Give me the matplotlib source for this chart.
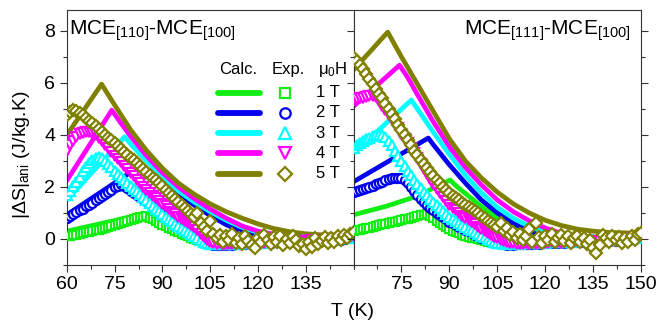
import numpy as np
import matplotlib
matplotlib.use("Agg")
import matplotlib.pyplot as plt
from matplotlib.ticker import MultipleLocator

plt.rcParams['font.family'] = ['Liberation Sans', 'DejaVu Sans']
plt.rcParams['mathtext.fontset'] = 'custom'
plt.rcParams['mathtext.rm'] = 'Liberation Sans'
plt.rcParams['mathtext.it'] = 'Liberation Sans:italic'

# temperature grid of the measured points (K)
T = np.arange(60, 151)

fields = ["1 T", "2 T", "3 T", "4 T", "5 T"]
colors = ["#11ee11", "#0000ee", "#00ffff", "#ff00ff", "#808000"]
markers = ["s", "o", "^", "v", "D"]
msizes = [5.5, 6.5, 7, 7, 6]

# ---- experimental, MCE[110]-MCE[100] ----
exp110_1 = [0.10, 0.12, 0.15, 0.17, 0.20, 0.22, 0.25, 0.27, 0.30, 0.33,
            0.35, 0.38, 0.42, 0.45, 0.50, 0.55, 0.58, 0.62, 0.65, 0.68,
            0.72, 0.76, 0.80, 0.84, 0.86, 0.88, 0.82, 0.75, 0.68, 0.62,
            0.55, 0.49, 0.43, 0.37, 0.31, 0.26, 0.20, 0.15, 0.10, 0.05,
            0.01, -0.04, -0.08, -0.12, -0.15, -0.17, -0.18, -0.19, -0.18, -0.17,
            -0.18, -0.16, -0.15, -0.17, -0.14, -0.13, -0.15, -0.12, -0.10, -0.12,
            -0.10, -0.11, -0.09, -0.08, -0.10, -0.07, -0.09, -0.06, -0.08, -0.05,
            -0.07, -0.05, -0.06, -0.04, -0.07, -0.05, -0.03, -0.06, -0.04, -0.02,
            -0.04, -0.01, -0.03, 0.00, -0.02, 0.02, 0.00, 0.04, 0.06, 0.08,
            0.10]
exp110_2 = [0.80, 0.88, 0.96, 1.03, 1.10, 1.17, 1.25, 1.32, 1.40, 1.48,
            1.56, 1.65, 1.73, 1.82, 1.90, 1.98, 2.05, 2.10, 2.05, 1.95,
            1.86, 1.78, 1.70, 1.62, 1.53, 1.45, 1.36, 1.27, 1.18, 1.09,
            1.00, 0.91, 0.82, 0.73, 0.64, 0.55, 0.46, 0.38, 0.30, 0.22,
            0.14, 0.06, -0.02, -0.10, -0.16, -0.20, -0.22, -0.23, -0.22, -0.24,
            -0.22, -0.21, -0.23, -0.20, -0.19, -0.21, -0.18, -0.17, -0.19, -0.16,
            -0.15, -0.17, -0.14, -0.13, -0.15, -0.12, -0.13, -0.11, -0.12, -0.10,
            -0.11, -0.09, -0.10, -0.08, -0.10, -0.07, -0.09, -0.06, -0.08, -0.05,
            -0.06, -0.04, -0.05, -0.03, -0.04, -0.01, -0.02, 0.01, 0.03, 0.05,
            0.08]
exp110_3 = [1.70, 1.85, 2.02, 2.20, 2.40, 2.60, 2.78, 2.93, 3.05, 3.13,
            3.15, 3.10, 3.00, 2.88, 2.75, 2.62, 2.50, 2.38, 2.26, 2.15,
            2.05, 1.94, 1.83, 1.72, 1.61, 1.50, 1.39, 1.28, 1.17, 1.06,
            0.96, 0.86, 0.77, 0.68, 0.59, 0.50, 0.42, 0.34, 0.26, 0.18,
            0.10, 0.03, -0.04, -0.10, -0.15, -0.19, -0.20, -0.18, -0.21, -0.19,
            -0.20, -0.17, -0.19, -0.16, -0.18, -0.15, -0.16, -0.14, -0.15, -0.12,
            -0.13, -0.14, -0.11, -0.12, -0.10, -0.11, -0.09, -0.10, -0.08, -0.09,
            -0.07, -0.08, -0.06, -0.08, -0.05, -0.07, -0.04, -0.06, -0.03, -0.05,
            -0.03, -0.04, -0.02, -0.03, 0.00, -0.01, 0.02, 0.03, 0.05, 0.07,
            0.10]
exp110_4 = [3.40, 3.60, 3.78, 3.92, 4.02, 4.08, 4.12, 4.12, 4.08, 4.00,
            3.88, 3.75, 3.62, 3.48, 3.34, 3.20, 3.07, 2.94, 2.81, 2.68,
            2.55, 2.42, 2.28, 2.14, 2.00, 1.89, 1.78, 1.67, 1.56, 1.45,
            1.35, 1.25, 1.15, 1.05, 0.95, 0.85, 0.77, 0.69, 0.61, 0.53,
            0.45, 0.33, 0.20, 0.08, -0.03, -0.10, -0.15, -0.20, -0.17, -0.22,
            -0.19, -0.21, -0.18, -0.20, -0.16, -0.19, -0.17, -0.15, -0.18, -0.14,
            -0.16, -0.13, -0.15, -0.12, -0.14, -0.11, -0.13, -0.10, -0.12, -0.09,
            -0.11, -0.08, -0.10, -0.07, -0.09, -0.06, -0.08, -0.05, -0.07, -0.04,
            -0.05, -0.03, -0.04, -0.02, -0.03, 0.00, 0.01, 0.03, 0.05, 0.08,
            0.12]
exp110_5 = [4.75, 4.88, 4.95, 4.92, 4.85, 4.75, 4.65, 4.55, 4.45, 4.34,
            4.23, 4.12, 4.01, 3.90, 3.79, 3.68, 3.57, 3.46, 3.35, 3.24,
            3.13, 3.02, 2.91, 2.80, 2.69, 2.58, 2.47, 2.36, 2.25, 2.14,
            2.02, 1.90, 1.78, 1.66, 1.54, 1.42, 1.30, 1.18, 1.06, 0.95,
            0.85, 0.98, 0.62, 0.45, 0.30, 0.68, 0.20, 0.02, 0.15, -0.10,
            0.12, -0.05, 0.18, -0.15, 0.05, -0.20, 0.10, -0.08, -0.25, -0.35,
            0.02, -0.12, 0.15, -0.05, -0.18, 0.08, -0.10, 0.12, -0.22, 0.00,
            -0.15, 0.10, -0.05, -0.28, -0.20, -0.40, -0.12, -0.30, 0.05, -0.18,
            -0.08, 0.08, -0.15, 0.02, -0.10, 0.12, -0.05, 0.15, 0.05, 0.20,
            0.25]

# ---- experimental, MCE[111]-MCE[100] ----
exp111_1 = [0.30, 0.33, 0.36, 0.38, 0.42, 0.44, 0.47, 0.50, 0.53, 0.56,
            0.58, 0.61, 0.64, 0.67, 0.70, 0.72, 0.75, 0.78, 0.82, 0.85,
            0.88, 0.91, 0.94, 0.95, 0.88, 0.80, 0.71, 0.62, 0.54, 0.46,
            0.38, 0.32, 0.27, 0.22, 0.17, 0.13, 0.09, 0.05, 0.02, -0.01,
            -0.04, -0.07, -0.10, -0.12, -0.14, -0.16, -0.17, -0.18, -0.17, -0.18,
            -0.17, -0.16, -0.17, -0.15, -0.16, -0.14, -0.13, -0.14, -0.12, -0.13,
            -0.11, -0.12, -0.10, -0.11, -0.09, -0.10, -0.08, -0.09, -0.07, -0.08,
            -0.06, -0.07, -0.05, -0.06, -0.04, -0.05, -0.03, -0.04, -0.02, -0.03,
            -0.01, -0.02, 0.00, -0.01, 0.01, 0.00, 0.02, 0.03, 0.05, 0.07,
            0.10]
exp111_2 = [1.82, 1.86, 1.90, 1.94, 1.97, 2.00, 2.05, 2.10, 2.15, 2.20,
            2.25, 2.30, 2.34, 2.35, 2.35, 2.33, 2.28, 2.15, 2.00, 1.85,
            1.70, 1.55, 1.42, 1.30, 1.20, 1.10, 1.00, 0.91, 0.83, 0.75,
            0.67, 0.60, 0.53, 0.47, 0.41, 0.35, 0.29, 0.23, 0.17, 0.11,
            0.05, 0.00, -0.05, -0.10, -0.14, -0.17, -0.19, -0.20, -0.22, -0.21,
            -0.22, -0.20, -0.21, -0.19, -0.20, -0.18, -0.19, -0.17, -0.18, -0.16,
            -0.17, -0.15, -0.16, -0.14, -0.15, -0.13, -0.14, -0.12, -0.13, -0.11,
            -0.12, -0.10, -0.11, -0.09, -0.10, -0.08, -0.09, -0.07, -0.08, -0.06,
            -0.07, -0.05, -0.06, -0.04, -0.05, -0.03, -0.02, 0.00, 0.02, 0.04,
            0.06]
exp111_3 = [3.50, 3.60, 3.70, 3.78, 3.85, 3.90, 3.95, 3.98, 4.00, 3.98,
            3.92, 3.78, 3.60, 3.40, 3.20, 3.00, 2.80, 2.62, 2.45, 2.28,
            2.12, 1.97, 1.82, 1.68, 1.55, 1.42, 1.30, 1.18, 1.07, 0.96,
            0.86, 0.77, 0.69, 0.61, 0.54, 0.47, 0.40, 0.33, 0.26, 0.19,
            0.12, 0.06, 0.00, -0.05, -0.10, -0.14, -0.16, -0.18, -0.17, -0.19,
            -0.18, -0.17, -0.19, -0.16, -0.17, -0.15, -0.16, -0.14, -0.15, -0.13,
            -0.14, -0.12, -0.13, -0.11, -0.12, -0.10, -0.11, -0.09, -0.10, -0.08,
            -0.09, -0.07, -0.08, -0.06, -0.07, -0.05, -0.06, -0.04, -0.05, -0.03,
            -0.04, -0.02, -0.03, -0.01, -0.02, 0.00, 0.01, 0.03, 0.04, 0.06,
            0.09]
exp111_4 = [5.35, 5.38, 5.40, 5.43, 5.45, 5.48, 5.50, 5.45, 5.30, 5.12,
            4.95, 4.78, 4.60, 4.42, 4.25, 4.05, 3.85, 3.68, 3.50, 3.30,
            3.10, 2.90, 2.70, 2.50, 2.30, 2.10, 1.93, 1.77, 1.62, 1.45,
            1.30, 1.20, 1.10, 1.00, 0.90, 0.80, 0.72, 0.64, 0.56, 0.48,
            0.40, 0.32, 0.24, 0.16, 0.09, 0.03, -0.03, -0.08, -0.12, -0.15,
            -0.17, -0.19, -0.18, -0.20, -0.17, -0.19, -0.16, -0.18, -0.15, -0.17,
            -0.14, -0.16, -0.13, -0.15, -0.12, -0.14, -0.11, -0.13, -0.10, -0.12,
            -0.09, -0.11, -0.08, -0.10, -0.07, -0.12, -0.06, -0.08, -0.05, -0.07,
            -0.04, -0.06, -0.03, -0.05, -0.02, -0.03, 0.00, 0.02, 0.04, 0.07,
            0.10]
exp111_5 = [6.95, 6.85, 6.70, 6.52, 6.35, 6.15, 5.95, 5.75, 5.58, 5.40,
            5.20, 5.00, 4.80, 4.60, 4.40, 4.20, 4.00, 3.80, 3.60, 3.40,
            3.22, 3.05, 2.88, 2.72, 2.56, 2.42, 2.28, 2.14, 2.00, 1.88,
            1.76, 1.66, 1.57, 1.48, 1.40, 1.32, 1.24, 1.16, 1.08, 0.98,
            0.88, 0.80, 0.70, 0.62, 0.52, 0.45, 0.60, 0.30, 0.42, 0.15,
            0.28, 0.05, 0.20, -0.05, 0.12, 0.40, -0.10, 0.61, 0.08, -0.15,
            0.10, -0.05, 0.18, -0.12, 0.05, 0.15, -0.08, 0.10, -0.15, 0.02,
            0.12, -0.10, 0.05, -0.20, -0.05, -0.35, -0.54, -0.25, 0.15, 0.02,
            -0.12, 0.10, -0.05, 0.08, -0.15, 0.05, -0.10, 0.12, -0.02, 0.18,
            0.23]

# ---- calculated curves (T, value) ----
calc110_T = [
    [60, 84.5, 87, 90, 95, 100, 105, 110, 150],
    [60, 83.5, 85, 90, 95, 100, 105, 110, 115, 120, 130, 150],
    [60, 78.2, 80, 85, 90, 95, 100, 105, 110, 115, 120, 130, 150],
    [60, 74.1, 77, 80, 85, 90, 95, 100, 105, 110, 115, 120, 125, 130, 140, 150],
    [60, 70.9, 75, 80, 85, 90, 95, 100, 105, 110, 115, 120, 125, 130, 135, 140, 145, 150],
]
calc110_S = [
    [0.30, 0.97, 0.80, 0.62, 0.35, 0.15, 0.02, -0.05, -0.05],
    [0.93, 2.85, 2.70, 2.25, 1.75, 1.30, 0.90, 0.55, 0.28, 0.10, 0.00, 0.00],
    [1.50, 3.93, 3.65, 3.00, 2.40, 1.85, 1.42, 1.05, 0.72, 0.45, 0.25, 0.05, 0.00],
    [2.25, 4.95, 4.45, 3.95, 3.20, 2.55, 2.00, 1.55, 1.15, 0.80, 0.50, 0.30, 0.18, 0.10, 0.02, 0.00],
    [4.00, 5.95, 5.15, 4.20, 3.40, 2.72, 2.15, 1.72, 1.35, 1.05, 0.80, 0.58, 0.40, 0.28, 0.20, 0.16, 0.15, 0.15],
]
calc111_T = [
    [60, 70, 80, 90.2, 92, 95, 100, 105, 110, 115, 120, 150],
    [60, 83.4, 85, 90, 95, 100, 105, 110, 115, 120, 130, 150],
    [60, 78.1, 80, 85, 90, 95, 100, 105, 110, 115, 120, 125, 130, 150],
    [60, 74.4, 77, 80, 85, 90, 95, 100, 105, 110, 115, 120, 125, 130, 140, 150],
    [60, 70.7, 75, 80, 85, 90, 95, 100, 105, 110, 115, 120, 125, 130, 135, 140, 150],
]
calc111_S = [
    [0.93, 1.25, 1.65, 2.27, 2.05, 1.75, 1.25, 0.80, 0.45, 0.20, 0.05, 0.00],
    [2.20, 3.88, 3.62, 2.85, 2.15, 1.50, 1.00, 0.60, 0.30, 0.12, 0.00, 0.00],
    [3.30, 5.34, 5.00, 4.10, 3.25, 2.45, 1.78, 1.22, 0.80, 0.48, 0.25, 0.10, 0.02, 0.00],
    [5.10, 6.68, 6.20, 5.55, 4.50, 3.55, 2.75, 2.08, 1.50, 1.05, 0.70, 0.42, 0.22, 0.10, 0.02, 0.00],
    [6.50, 7.95, 7.00, 5.95, 4.90, 3.85, 3.00, 2.35, 1.80, 1.35, 1.00, 0.72, 0.52, 0.38, 0.30, 0.25, 0.22],
]

exp110 = [exp110_1, exp110_2, exp110_3, exp110_4, exp110_5]
exp111 = [exp111_1, exp111_2, exp111_3, exp111_4, exp111_5]

fig = plt.figure(figsize=(6.62, 3.29), dpi=100)
ax1 = fig.add_axes([0.101, 0.1945, 0.433, 0.775])
ax2 = fig.add_axes([0.534, 0.1945, 0.4345, 0.775])


def draw_panel(ax, calc_T, calc_S, exp):
    for i in range(5):
        ax.plot(calc_T[i], calc_S[i], color=colors[i], lw=3.4,
                solid_capstyle='round', solid_joinstyle='round', zorder=2)
    for i in range(5):
        ax.plot(T, exp[i], ls='none', marker=markers[i], ms=msizes[i],
                mec=colors[i], mfc='white', mew=1.6, zorder=3)
    ax.set_xlim(60, 150)
    ax.set_ylim(-1, 8.8)
    ax.xaxis.set_major_locator(MultipleLocator(15))
    ax.xaxis.set_minor_locator(MultipleLocator(7.5))
    ax.yaxis.set_major_locator(MultipleLocator(2))
    ax.yaxis.set_minor_locator(MultipleLocator(1))
    ax.tick_params(which='both', direction='out', top=False, right=True,
                   labelsize=14, width=0.8, color='#333333')
    ax.tick_params(which='major', length=5)
    ax.tick_params(which='minor', length=3)
    for sp in ax.spines.values():
        sp.set_linewidth(0.8)
        sp.set_color('#333333')


draw_panel(ax1, calc110_T, calc110_S, exp110)
draw_panel(ax2, calc111_T, calc111_S, exp111)

ax1.set_xticks([60, 75, 90, 105, 120, 135])
ax2.set_xticks([75, 90, 105, 120, 135, 150])
ax2.tick_params(labelleft=False)
ax1.tick_params(axis='x', pad=3)
ax2.tick_params(axis='x', pad=3)

ax1.text(0.008, 0.905, r"MCE$_{[110]}$-MCE$_{[100]}$", transform=ax1.transAxes,
         fontsize=15, ha='left', va='baseline')
ax2.text(0.965, 0.905, r"MCE$_{[111]}$-MCE$_{[100]}$", transform=ax2.transAxes,
         fontsize=15, ha='right', va='baseline')

# legend block drawn inside the left panel
tr = ax1.transAxes
ax1.text(0.598, 0.767, "Calc.", transform=tr, fontsize=12, ha='center', va='center')
ax1.text(0.772, 0.767, "Exp.", transform=tr, fontsize=12, ha='center', va='center')
ax1.text(0.929, 0.767, "μ$_0$H", transform=tr, fontsize=12, ha='center', va='center')
rows = [0.676, 0.597, 0.516, 0.438, 0.357]
for i in range(5):
    ax1.plot([0.527, 0.674], [rows[i], rows[i]], transform=tr, color=colors[i],
             lw=4.2, solid_capstyle='round', clip_on=False, zorder=5)
    ax1.plot([0.761], [rows[i]], transform=tr, ls='none', marker=markers[i],
             ms=msizes[i] + 1, mec=colors[i], mfc='white', mew=1.6, clip_on=False, zorder=5)
    ax1.text(0.911, rows[i], fields[i], transform=tr, fontsize=12, ha='center', va='center')

fig.text(0.033, 0.53, r"|$\Delta$S|$_{\rm ani}$ (J/kg.K)", rotation=90,
         fontsize=14, ha='center', va='center')
fig.text(0.532, 0.052, "T (K)", fontsize=14, ha='center', va='center')

fig.savefig("out.png", dpi=100)
